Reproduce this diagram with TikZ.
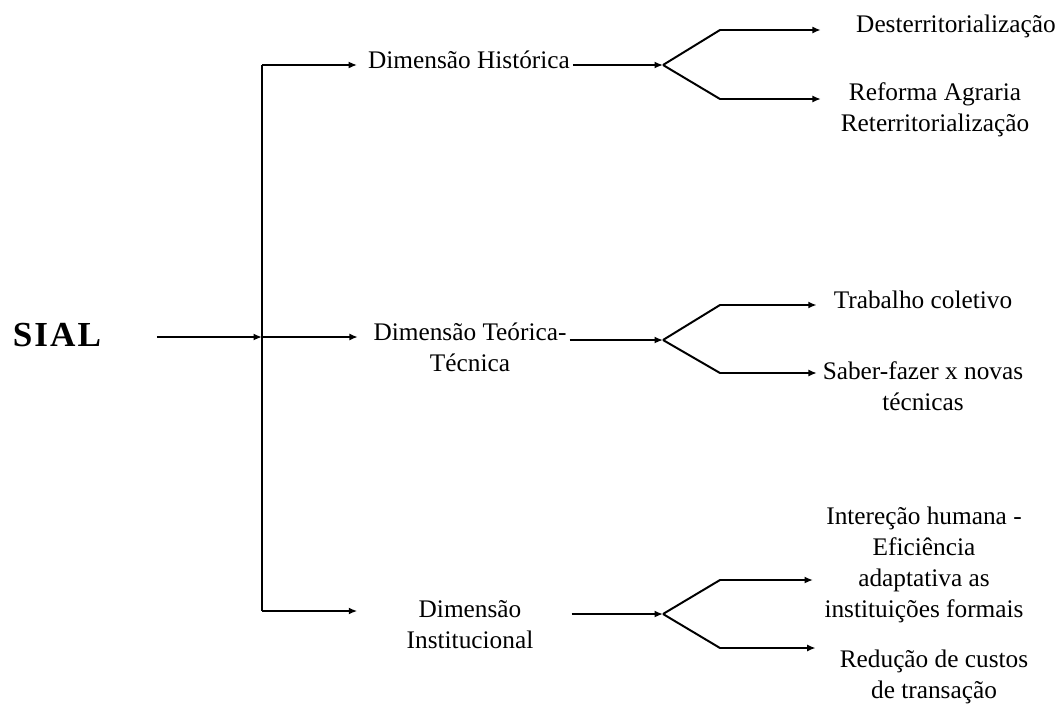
\documentclass[tikz,border=0pt]{standalone}
\usepackage{fontspec}
\setmainfont{Liberation Serif}
\usetikzlibrary{arrows.meta}
\tikzset{
  txt/.style={align=center, inner sep=2pt, font=\fontsize{18}{22}\selectfont},
  arr/.style={-{Latex[length=6pt,width=5pt]}, line width=1.4pt},
}
\begin{document}
\begin{tikzpicture}[x=0.025cm,y=-0.025cm]
  \useasboundingbox (0,0) rectangle (1059,704);
  \node[font=\fontsize{25}{30}\selectfont\bfseries\addfontfeature{LetterSpace=6}] (sial) at (57,335) {SIAL};
  \begin{scope}[every node/.style={txt}]
    \draw
      (469,60) node (hist){Dimensão Histórica}
      (470,347) node (teor){Dimensão Teórica-\\Técnica}
      (470,625) node (inst){Dimensão\\Institucional}
      (956,26) node (d1){Desterritorialização}
      (935,110) node (d2){Reforma Agraria\\Reterritorialização}
      (923,300) node (d3){Trabalho coletivo}
      (923,386) node (d4){Saber-fazer x novas\\técnicas}
      (924,565) node (d5){Intereção humana -\\Eficiência\\adaptativa as\\instituições formais}
      (934,677) node (d6){Redução de custos\\de transação};
  \end{scope}
  \coordinate (jt) at (262,65);
  \coordinate (jm) at (262,337);
  \coordinate (jb) at (262,611);
  \coordinate (fh) at (663,65);
  \coordinate (ft) at (663,340);
  \coordinate (fi) at (663,614);
  \begin{scope}[arr]
    \draw[shorten <=36pt] (sial.east |- jm) -- (jm);
    \draw[-] (jt) -- (jb);
    \draw[shorten >=5.7pt] (jt) -- (jt -| hist.west);
    \draw[shorten >=9pt] (jm) -- (jm -| teor.west);
    \draw[shorten >=33pt] (jb) -- (jb -| inst.west);
    \draw (fh -| hist.east) -- (fh);
    \draw (ft -| teor.east) -- (ft);
    \draw[shorten <=25pt] (fi -| inst.east) -- (fi);
    \draw[shorten >=23pt] (fh) -- ++(57,-35) coordinate (fh1) -- (fh1 -| d1.west);
    \draw[shorten >=12pt] (fh) -- ++(57,34) coordinate (fh2) -- (fh2 -| d2.west);
    \draw[shorten >=10pt] (ft) -- ++(57,-35) coordinate (ft1) -- (ft1 -| d3.west);
    \draw[shorten >=2pt] (ft) -- ++(57,33) coordinate (ft2) -- (ft2 -| d4.west);
    \draw[shorten >=6pt] (fi) -- ++(57,-34) coordinate (fi1) -- (fi1 -| d5.west);
    \draw[shorten >=15pt] (fi) -- ++(57,34) coordinate (fi2) -- (fi2 -| d6.west);
  \end{scope}
\end{tikzpicture}
\end{document}
